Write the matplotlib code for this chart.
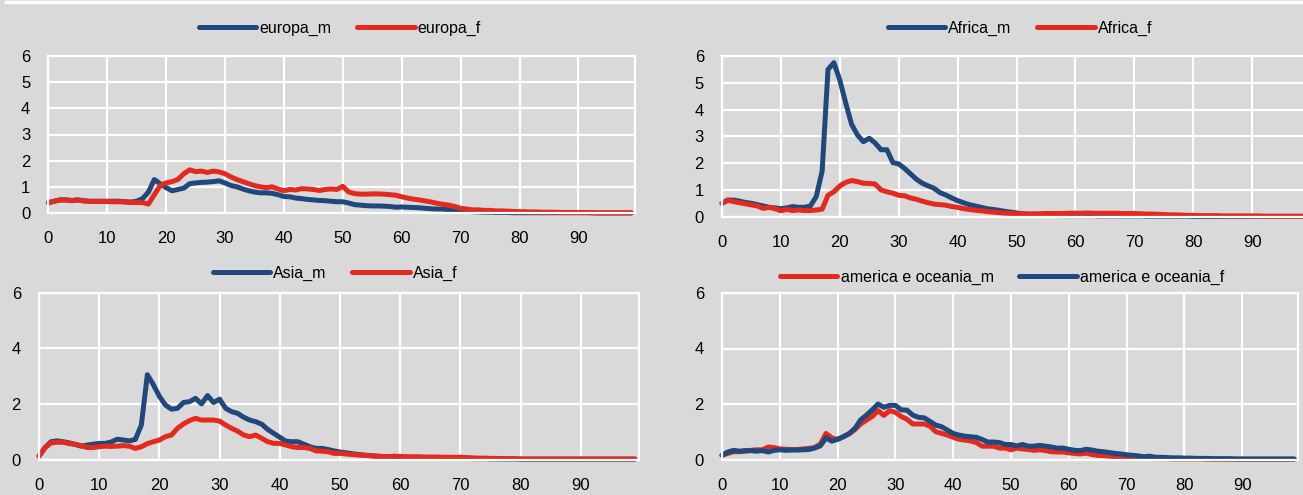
import matplotlib
matplotlib.use('Agg')
import matplotlib.pyplot as plt
from matplotlib.lines import Line2D

plt.rcParams['font.family'] = ['Liberation Sans Narrow', 'Liberation Sans', 'DejaVu Sans']

# età 0..99
ages = list(range(100))

europa_m = [0.40, 0.45, 0.50, 0.50, 0.48, 0.50, 0.47, 0.45, 0.45, 0.45,
            0.45, 0.45, 0.45, 0.43, 0.42, 0.45, 0.55, 0.80, 1.28, 1.12,
            0.97, 0.85, 0.90, 0.95, 1.12, 1.15, 1.17, 1.18, 1.20, 1.23,
            1.15, 1.05, 1.00, 0.92, 0.85, 0.80, 0.77, 0.77, 0.75, 0.70,
            0.63, 0.62, 0.57, 0.55, 0.52, 0.50, 0.48, 0.47, 0.45, 0.43,
            0.43, 0.38, 0.32, 0.30, 0.28, 0.27, 0.27, 0.26, 0.25, 0.22,
            0.23, 0.22, 0.21, 0.20, 0.18, 0.16, 0.15, 0.15, 0.12, 0.10,
            0.08, 0.06, 0.05, 0.04, 0.03, 0.03, 0.02, 0.02, 0.02, 0.01,
            0.01, 0.01, 0.01, 0.01, 0.01, 0.01, 0.01, 0.01, 0.01, 0.01,
            0.01, 0.01, 0.01, 0.00, 0.00, 0.00, 0.00, 0.00, 0.00, 0.00]
europa_f = [0.38, 0.45, 0.50, 0.50, 0.47, 0.50, 0.46, 0.44, 0.44, 0.44,
            0.44, 0.43, 0.43, 0.42, 0.40, 0.40, 0.40, 0.34, 0.70, 1.05,
            1.15, 1.20, 1.28, 1.50, 1.65, 1.58, 1.60, 1.55, 1.60, 1.57,
            1.50, 1.38, 1.28, 1.20, 1.12, 1.05, 1.00, 0.97, 1.00, 0.92,
            0.85, 0.90, 0.88, 0.93, 0.92, 0.90, 0.86, 0.90, 0.92, 0.90,
            1.02, 0.80, 0.74, 0.72, 0.72, 0.73, 0.73, 0.72, 0.70, 0.68,
            0.62, 0.57, 0.53, 0.50, 0.46, 0.42, 0.37, 0.33, 0.30, 0.25,
            0.18, 0.15, 0.12, 0.12, 0.10, 0.10, 0.08, 0.08, 0.07, 0.06,
            0.05, 0.05, 0.04, 0.04, 0.03, 0.03, 0.03, 0.02, 0.02, 0.02,
            0.02, 0.02, 0.01, 0.01, 0.01, 0.01, 0.01, 0.01, 0.01, 0.01]

africa_m = [0.50, 0.62, 0.62, 0.58, 0.53, 0.50, 0.45, 0.40, 0.35, 0.33,
            0.30, 0.33, 0.38, 0.35, 0.35, 0.40, 0.75, 1.70, 5.50, 5.75,
            5.10, 4.25, 3.45, 3.05, 2.80, 2.93, 2.75, 2.50, 2.50, 2.02,
            1.97, 1.80, 1.60, 1.40, 1.25, 1.15, 1.06, 0.90, 0.81, 0.70,
            0.60, 0.52, 0.45, 0.40, 0.35, 0.30, 0.27, 0.24, 0.20, 0.17,
            0.14, 0.11, 0.09, 0.08, 0.07, 0.06, 0.05, 0.05, 0.04, 0.04,
            0.04, 0.04, 0.04, 0.04, 0.03, 0.03, 0.03, 0.03, 0.03, 0.03,
            0.03, 0.03, 0.02, 0.02, 0.02, 0.02, 0.02, 0.02, 0.02, 0.02,
            0.01, 0.01, 0.01, 0.01, 0.01, 0.01, 0.01, 0.01, 0.01, 0.01,
            0.01, 0.01, 0.01, 0.01, 0.01, 0.01, 0.01, 0.01, 0.01, 0.01]
africa_f = [0.50, 0.62, 0.56, 0.52, 0.48, 0.44, 0.40, 0.31, 0.35, 0.30,
            0.22, 0.27, 0.23, 0.25, 0.23, 0.23, 0.25, 0.28, 0.80, 0.93,
            1.15, 1.28, 1.35, 1.31, 1.25, 1.24, 1.22, 1.00, 0.93, 0.88,
            0.80, 0.78, 0.70, 0.65, 0.58, 0.52, 0.47, 0.45, 0.43, 0.38,
            0.35, 0.30, 0.27, 0.24, 0.22, 0.19, 0.17, 0.15, 0.13, 0.12,
            0.11, 0.11, 0.10, 0.11, 0.11, 0.12, 0.12, 0.12, 0.12, 0.13,
            0.13, 0.13, 0.14, 0.13, 0.13, 0.13, 0.13, 0.13, 0.12, 0.12,
            0.12, 0.11, 0.10, 0.10, 0.09, 0.08, 0.07, 0.07, 0.06, 0.05,
            0.05, 0.04, 0.04, 0.04, 0.04, 0.03, 0.03, 0.03, 0.03, 0.03,
            0.03, 0.03, 0.02, 0.02, 0.02, 0.02, 0.02, 0.02, 0.02, 0.02]

asia_m = [0.12, 0.43, 0.64, 0.67, 0.64, 0.60, 0.54, 0.48, 0.52, 0.55,
          0.58, 0.58, 0.63, 0.73, 0.70, 0.67, 0.72, 1.24, 3.05, 2.69,
          2.27, 1.96, 1.81, 1.84, 2.05, 2.08, 2.20, 2.00, 2.30, 2.05,
          2.17, 1.84, 1.72, 1.66, 1.52, 1.42, 1.36, 1.27, 1.08, 0.94,
          0.80, 0.66, 0.64, 0.64, 0.55, 0.46, 0.40, 0.40, 0.36, 0.31,
          0.27, 0.24, 0.21, 0.18, 0.16, 0.14, 0.12, 0.11, 0.10, 0.09,
          0.08, 0.08, 0.07, 0.07, 0.06, 0.06, 0.05, 0.05, 0.05, 0.04,
          0.04, 0.04, 0.03, 0.03, 0.03, 0.02, 0.02, 0.02, 0.02, 0.02,
          0.01, 0.01, 0.01, 0.01, 0.01, 0.01, 0.01, 0.01, 0.01, 0.01,
          0.01, 0.01, 0.01, 0.01, 0.01, 0.01, 0.01, 0.01, 0.01, 0.01]
asia_f = [0.12, 0.42, 0.60, 0.62, 0.62, 0.57, 0.55, 0.50, 0.43, 0.43,
          0.46, 0.48, 0.47, 0.48, 0.50, 0.48, 0.40, 0.46, 0.57, 0.64,
          0.70, 0.82, 0.88, 1.12, 1.28, 1.40, 1.48, 1.42, 1.42, 1.42,
          1.38, 1.24, 1.12, 1.02, 0.88, 0.82, 0.88, 0.76, 0.64, 0.58,
          0.58, 0.52, 0.46, 0.43, 0.43, 0.40, 0.31, 0.30, 0.28, 0.22,
          0.22, 0.20, 0.18, 0.16, 0.15, 0.13, 0.12, 0.11, 0.10, 0.12,
          0.11, 0.10, 0.10, 0.10, 0.09, 0.09, 0.09, 0.08, 0.08, 0.08,
          0.08, 0.07, 0.06, 0.05, 0.05, 0.04, 0.04, 0.03, 0.03, 0.03,
          0.02, 0.02, 0.02, 0.02, 0.02, 0.02, 0.02, 0.02, 0.02, 0.02,
          0.02, 0.02, 0.02, 0.02, 0.02, 0.02, 0.02, 0.02, 0.02, 0.02]

america_m = [0.15, 0.22, 0.28, 0.28, 0.30, 0.33, 0.35, 0.35, 0.45, 0.43,
             0.38, 0.37, 0.36, 0.36, 0.38, 0.40, 0.43, 0.55, 0.94, 0.78,
             0.72, 0.82, 0.92, 1.08, 1.28, 1.42, 1.55, 1.76, 1.59, 1.76,
             1.70, 1.55, 1.45, 1.28, 1.28, 1.28, 1.20, 1.00, 0.94, 0.88,
             0.80, 0.73, 0.70, 0.67, 0.61, 0.48, 0.48, 0.48, 0.41, 0.41,
             0.35, 0.41, 0.38, 0.36, 0.33, 0.35, 0.32, 0.28, 0.27, 0.27,
             0.24, 0.22, 0.20, 0.23, 0.18, 0.15, 0.14, 0.12, 0.10, 0.09,
             0.08, 0.06, 0.05, 0.04, 0.04, 0.03, 0.03, 0.03, 0.02, 0.02,
             0.02, 0.02, 0.02, 0.02, 0.01, 0.01, 0.01, 0.01, 0.01, 0.01,
             0.01, 0.01, 0.01, 0.01, 0.01, 0.01, 0.01, 0.01, 0.01, 0.01]
america_f = [0.15, 0.27, 0.33, 0.30, 0.32, 0.32, 0.30, 0.32, 0.27, 0.33,
             0.35, 0.33, 0.34, 0.34, 0.35, 0.36, 0.41, 0.49, 0.78, 0.66,
             0.73, 0.82, 0.94, 1.12, 1.43, 1.60, 1.79, 2.00, 1.88, 1.95,
             1.95, 1.79, 1.78, 1.60, 1.52, 1.50, 1.37, 1.24, 1.18, 1.06,
             0.94, 0.88, 0.84, 0.82, 0.80, 0.72, 0.63, 0.63, 0.61, 0.54,
             0.54, 0.49, 0.54, 0.48, 0.48, 0.51, 0.48, 0.45, 0.41, 0.41,
             0.37, 0.33, 0.32, 0.37, 0.34, 0.30, 0.28, 0.25, 0.22, 0.20,
             0.17, 0.15, 0.13, 0.10, 0.12, 0.08, 0.08, 0.07, 0.06, 0.06,
             0.05, 0.05, 0.04, 0.04, 0.04, 0.03, 0.03, 0.03, 0.03, 0.02,
             0.02, 0.02, 0.02, 0.02, 0.02, 0.02, 0.02, 0.02, 0.02, 0.02]

BLU = '#1f497d'
ROSSO = '#e42a1f'
SFONDO = '#d9d9d9'
W, H = 1303, 495

fig = plt.figure(figsize=(W / 100, H / 100), dpi=100)
fig.patch.set_facecolor(SFONDO)
# striscia bianca in alto
fig.add_artist(Line2D([6 / W, 1], [1 - 2 / H, 1 - 2 / H], color='white', lw=2.5,
                      transform=fig.transFigure))


def pannello(px_left, px_per_year, px_y0, px_y6, serie, yticks, leg_cx, leg_cy):
    # posizione in pixel -> frazione della figura
    width = 99.6 * px_per_year
    ax = fig.add_axes([px_left / W, 1 - px_y0 / H, width / W, (px_y0 - px_y6) / H])
    ax.set_facecolor(SFONDO)
    for nome, dati, col in serie:
        ax.plot(ages, dati, color=col, lw=3.6, label=nome,
                solid_capstyle='round', solid_joinstyle='round', clip_on=False)
    ax.set_xlim(0, 99.6)
    ax.set_ylim(0, 6)
    ax.set_xticks(range(0, 100, 10))
    ax.set_yticks(yticks)
    ax.grid(True, color='white', lw=1.6)
    ax.set_axisbelow(True)
    for s in ax.spines.values():
        s.set_color('white')
        s.set_linewidth(1.6)
    ax.tick_params(length=0, labelsize=12, colors='#000000', pad=13)
    ax.legend(loc='center', bbox_to_anchor=(leg_cx / W, 1 - leg_cy / H),
              bbox_transform=fig.transFigure, ncol=2, frameon=False,
              fontsize=11.5, handlelength=3.6, handletextpad=0.2,
              columnspacing=1.6)
    return ax


pannello(48.3, 5.89, 213, 56, [('europa_m', europa_m, BLU), ('europa_f', europa_f, ROSSO)],
         range(0, 7), 340, 28)
pannello(722, 5.89, 216.7, 56, [('Africa_m', africa_m, BLU), ('Africa_f', africa_f, ROSSO)],
         range(0, 7), 1020, 28)
pannello(39, 6.02, 459.5, 292.7, [('Asia_m', asia_m, BLU), ('Asia_f', asia_f, ROSSO)],
         range(0, 7, 2), 335, 273)
pannello(722, 5.78, 459.5, 293, [('america e oceania_m', america_m, ROSSO),
                                 ('america e oceania_f', america_f, BLU)],
         range(0, 7, 2), 1002, 277)

fig.savefig('out.png', dpi=100, facecolor=SFONDO)
